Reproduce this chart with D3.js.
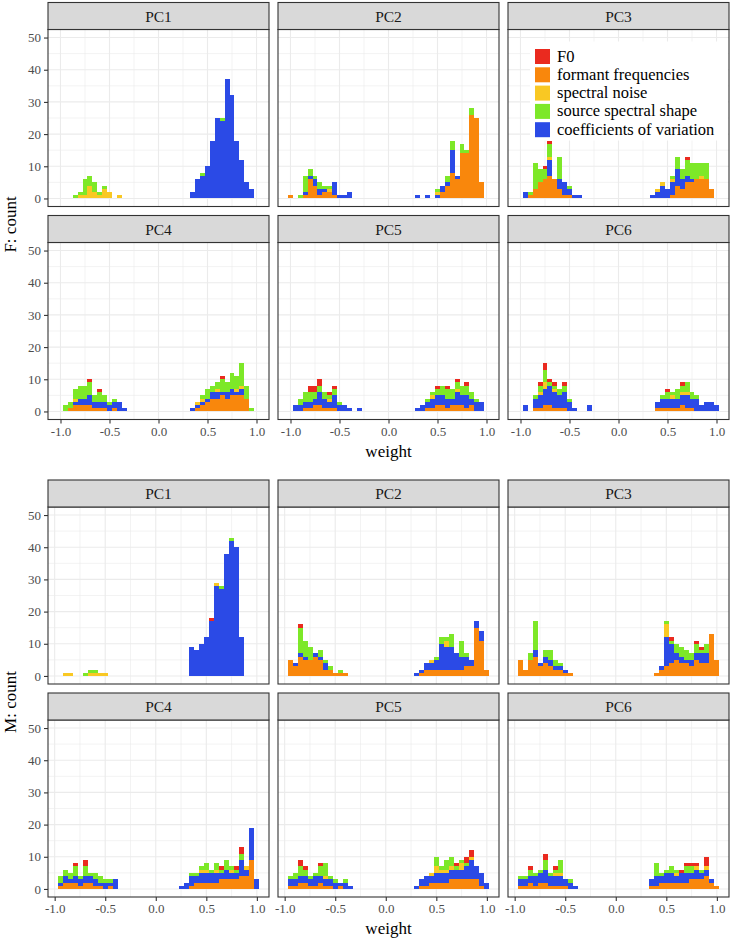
<!DOCTYPE html>
<html>
<head>
<meta charset="utf-8">
<script src="https://cdn.jsdelivr.net/npm/d3@7"></script>
<style>
  html, body { margin: 0; padding: 0; background: #ffffff; }
  svg { display: block; }
</style>
</head>
<body>
<script>
// ---------------- DATA ----------------
const categories = ["F0", "formant frequencies", "spectral noise", "source spectral shape", "coefficients of variation"];
const categoryColors = ["#ea2a1f", "#f9870c", "#f9c823", "#7de828", "#2b4ae6"];
// stacking order, bottom to top
const stackOrder = ["formant frequencies", "coefficients of variation", "spectral noise", "source spectral shape", "F0"];
const panelNames = ["PC1", "PC2", "PC3", "PC4", "PC5", "PC6"];
const yTicks = [0, 10, 20, 30, 40, 50];
const yMinorTicks = [5, 15, 25, 35, 45];
const xTicks = [-1.0, -0.5, 0.0, 0.5, 1.0];
const xTickLabels = ["-1.0", "-0.5", "0.0", "0.5", "1.0"];
const xMinorTicks = [-0.75, -0.25, 0.25, 0.75];
const groupLabels = ["F: count", "M: count"];
const xTitle = "weight";
const binWidthF = 0.05;
const binWidthM = 0.0497;

// rows: [bin centre, F0, formant frequencies, spectral noise, source spectral shape, coefficients of variation]
const F_PC1 = [
  [-0.85,0,0,0,1,0],[-0.80,0,0,1,1,0],[-0.75,0,0,1,5,0],[-0.70,0,0,4,3,0],[-0.65,0,0,2,3,0],
  [-0.60,0,0,1,1,0],[-0.55,0,0,3,1,0],[-0.50,0,0,2,0,0],[-0.40,0,0,1,0,0],
  [0.35,0,0,0,0,2],[0.40,0,0,0,0,6],[0.45,0,0,0,1,7],[0.50,0,0,0,0,10],[0.55,0,0,0,0,18],
  [0.60,0,0,0,0,25],[0.65,0,0,0,1,24],[0.70,0,0,0,0,37],[0.75,0,0,0,0,32],[0.80,0,0,0,0,18],
  [0.85,0,0,0,0,12],[0.90,0,0,0,0,5],[0.95,0,0,0,0,3]
];
const F_PC2 = [
  [-1.00,0,1,0,0,0],[-0.90,0,0,0,1,0],[-0.85,0,1,0,5,1],[-0.80,0,6,0,2,1],[-0.75,0,4,0,1,2],
  [-0.70,0,1,0,2,2],[-0.65,0,2,0,1,1],[-0.60,0,2,1,1,0],[-0.55,0,1,0,0,4],[-0.50,0,0,0,0,1],
  [-0.45,0,0,0,0,1],[-0.40,0,0,0,0,2],
  [0.30,0,0,0,0,1],[0.40,0,0,0,0,1],[0.50,0,0,1,1,1],[0.55,0,2,0,0,2],[0.60,0,4,0,2,1],
  [0.65,0,8,0,3,7],[0.70,0,6,0,0,1],[0.75,0,14,0,3,0],[0.80,0,14,0,1,0],[0.85,0,26,0,2,0],
  [0.90,0,25,0,0,0],[0.95,0,5,0,0,0]
];
const F_PC3 = [
  [-0.95,0,0,0,0,2],[-0.90,0,1,0,1,0],[-0.85,0,3,0,8,0],[-0.80,0,5,0,4,0],[-0.75,1,6,0,3,0],
  [-0.70,1,7,1,4,5],[-0.65,0,6,0,0,0],[-0.60,0,3,0,7,3],[-0.55,0,1,0,0,4],[-0.50,0,1,0,1,2],
  [-0.45,0,0,0,0,1],[-0.40,0,0,0,0,1],
  [0.35,0,0,0,0,1],[0.40,0,0,1,0,2],[0.45,0,0,1,0,4],[0.50,0,0,0,0,3],[0.55,0,1,1,1,4],
  [0.60,0,4,0,4,5],[0.65,0,3,0,3,3],[0.70,1,5,0,5,2],[0.75,0,5,0,5,1],[0.80,0,6,0,5,0],
  [0.85,0,6,1,4,0],[0.90,0,6,0,5,0],[0.95,0,3,0,0,0]
];
const F_PC4 = [
  [-0.95,0,0,0,2,0],[-0.90,0,1,0,2,0],[-0.85,0,2,1,3,1],[-0.80,0,2,0,4,2],[-0.75,0,2,0,4,2],
  [-0.70,1,2,0,4,3],[-0.65,0,1,0,2,2],[-0.60,1,1,0,3,2],[-0.55,0,1,0,2,2],[-0.50,0,0,0,1,2],
  [-0.45,0,1,0,1,2],[-0.40,0,0,0,0,3],[-0.35,0,0,0,0,1],
  [0.35,0,0,0,0,1],[0.40,0,1,1,0,1],[0.45,0,2,1,1,1],[0.50,0,3,0,3,1],[0.55,0,4,0,2,2],
  [0.60,0,4,1,2,2],[0.65,1,5,0,4,1],[0.70,0,4,0,3,2],[0.75,0,5,0,5,2],[0.80,0,5,1,4,1],
  [0.85,0,5,1,7,2],[0.90,0,4,0,4,0],[0.95,0,0,0,1,0]
];
const F_PC5 = [
  [-0.95,0,0,0,0,2],[-0.90,0,0,0,2,2],[-0.85,0,1,0,3,2],[-0.80,2,1,0,3,2],[-0.75,2,2,0,2,2],
  [-0.70,2,2,0,2,4],[-0.65,0,1,0,2,3],[-0.60,1,1,1,1,2],[-0.55,1,1,0,2,4],[-0.50,0,0,0,1,2],
  [-0.45,0,0,0,0,2],[-0.40,0,0,0,0,1],[-0.30,0,0,0,0,1],
  [0.30,0,0,0,0,1],[0.35,0,0,0,0,2],[0.40,0,1,0,1,2],[0.45,0,1,1,1,3],[0.50,1,2,0,2,3],
  [0.55,0,2,0,3,3],[0.60,1,1,0,3,3],[0.65,0,2,0,3,2],[0.70,1,2,1,2,4],[0.75,0,2,0,3,3],
  [0.80,1,1,0,3,4],[0.85,0,2,0,2,2],[0.90,0,0,0,1,3],[0.95,0,0,0,0,3]
];
const F_PC6 = [
  [-0.95,0,0,0,0,2],[-0.85,0,1,0,1,3],[-0.80,1,1,1,2,4],[-0.75,2,2,2,4,5],[-0.70,1,2,0,1,6],
  [-0.65,1,1,1,1,5],[-0.60,0,1,0,2,4],[-0.55,1,1,0,2,5],[-0.50,0,0,0,1,3],[-0.45,0,0,0,0,1],
  [-0.30,0,0,0,0,2],
  [0.40,0,1,0,0,2],[0.45,0,1,0,1,3],[0.50,1,1,0,2,3],[0.55,0,1,1,1,3],[0.60,0,1,0,3,3],
  [0.65,1,2,1,2,3],[0.70,0,1,1,3,4],[0.75,0,1,0,2,3],[0.80,0,0,0,1,4],[0.85,0,0,0,0,2],
  [0.90,0,0,0,0,3],[0.95,0,0,0,0,3],[1.00,0,0,0,0,2]
];

const M_PC1 = [
  [-0.892,0,0,1,0,0],[-0.843,0,0,1,0,0],[-0.694,0,0,0,1,0],[-0.644,0,0,1,1,0],[-0.594,0,0,1,1,0],
  [-0.544,0,0,1,0,0],[-0.495,0,0,1,0,0],
  [0.350,0,0,0,0,9],[0.400,0,0,0,0,8],[0.450,0,0,0,0,10],[0.499,0,0,0,0,12],[0.549,1,0,0,0,17],
  [0.599,0,0,1,0,28],[0.648,0,0,0,1,27],[0.698,0,0,0,0,38],[0.748,0,0,0,1,42],[0.798,0,0,0,0,40],
  [0.847,0,0,0,0,12]
];
const M_PC2 = [
  [-0.942,0,5,0,0,0],[-0.892,0,3,0,0,1],[-0.843,1,6,0,8,1],[-0.793,0,5,0,5,1],[-0.743,0,5,0,4,0],
  [-0.694,0,6,0,0,1],[-0.644,0,5,0,2,1],[-0.594,0,2,0,1,2],[-0.544,0,2,0,1,0],[-0.495,0,1,0,0,0],
  [-0.445,0,1,0,1,0],[-0.395,0,1,0,0,0],
  [0.301,0,0,0,0,1],[0.350,0,1,0,0,1],[0.400,0,2,0,0,2],[0.450,0,2,1,0,2],[0.499,0,2,0,1,3],
  [0.549,0,2,0,2,8],[0.599,0,2,2,1,7],[0.648,0,2,0,4,7],[0.698,0,2,0,0,5],[0.748,0,2,0,5,4],
  [0.798,0,3,0,1,3],[0.847,0,3,0,0,2],[0.897,0,15,0,0,2],[0.947,0,11,0,0,3],[0.996,0,2,0,0,0]
];
const M_PC3 = [
  [-0.942,0,5,0,0,0],[-0.892,0,2,0,0,0],[-0.843,0,5,0,2,0],[-0.793,0,6,0,9,2],[-0.743,0,3,0,0,1],
  [-0.694,0,4,0,2,2],[-0.644,0,3,0,3,2],[-0.594,0,2,0,2,1],[-0.544,0,2,0,1,1],[-0.495,0,1,0,0,1],
  [-0.445,0,1,0,0,0],
  [0.400,0,1,0,0,0],[0.450,0,2,0,0,1],[0.499,0,3,4,1,9],[0.549,1,4,0,1,6],[0.599,0,5,0,3,2],
  [0.648,0,4,0,3,2],[0.698,0,4,0,3,1],[0.748,0,3,0,2,2],[0.798,1,5,0,3,2],[0.847,1,4,0,1,3],
  [0.897,0,4,0,3,3],[0.947,0,13,0,0,0],[0.996,0,5,0,0,0]
];
const M_PC4 = [
  [-0.942,0,1,0,2,1],[-0.892,0,2,0,2,2],[-0.843,0,2,0,2,1],[-0.793,1,2,0,3,2],[-0.743,0,1,0,1,2],
  [-0.694,2,2,0,3,2],[-0.644,0,2,0,1,2],[-0.594,0,1,0,2,2],[-0.544,0,1,0,2,1],[-0.495,0,0,0,1,2],
  [-0.445,0,1,0,1,1],[-0.395,0,0,0,0,3],
  [0.251,0,0,0,0,1],[0.301,0,0,0,0,2],[0.350,0,1,0,1,3],[0.400,0,2,0,1,2],[0.450,0,2,1,1,3],
  [0.499,0,2,1,2,3],[0.549,0,2,0,1,3],[0.599,0,2,1,2,3],[0.648,1,3,0,1,2],[0.698,0,3,0,3,3],
  [0.748,0,3,1,1,2],[0.798,1,3,0,1,2],[0.847,2,4,0,2,5],[0.897,0,4,1,0,2],[0.947,0,9,0,0,10],
  [0.996,0,0,0,0,3]
];
const M_PC5 = [
  [-0.942,0,1,0,1,2],[-0.892,0,1,0,2,2],[-0.843,2,2,0,3,2],[-0.793,1,2,0,2,2],[-0.743,0,1,0,1,2],
  [-0.694,0,1,0,1,3],[-0.644,1,2,0,3,2],[-0.594,0,1,1,4,2],[-0.544,0,1,0,1,2],[-0.495,0,0,0,1,2],
  [-0.445,0,1,0,0,1],[-0.395,0,0,0,1,2],[-0.346,0,0,0,0,1],
  [0.301,0,0,0,0,1],[0.350,0,1,0,0,2],[0.400,0,1,0,0,3],[0.450,0,2,1,0,2],[0.499,0,2,2,3,3],
  [0.549,0,2,1,1,3],[0.599,0,2,1,3,3],[0.648,0,3,1,3,3],[0.698,1,3,0,1,3],[0.748,0,3,2,1,3],
  [0.798,2,3,0,1,4],[0.847,2,3,1,0,6],[0.897,0,3,0,0,4],[0.947,0,1,0,0,4],[0.996,0,0,0,0,2]
];
const M_PC6 = [
  [-0.942,0,1,0,1,2],[-0.892,0,1,0,1,2],[-0.843,1,2,0,2,2],[-0.793,0,1,0,1,3],[-0.743,0,2,0,1,3],
  [-0.694,2,2,0,3,4],[-0.644,0,1,0,1,3],[-0.594,1,1,1,1,3],[-0.544,0,1,1,4,3],[-0.495,0,1,0,0,2],
  [-0.445,0,0,0,1,2],[-0.395,0,0,0,0,1],
  [0.350,0,1,0,0,2],[0.400,0,1,0,4,3],[0.450,0,2,0,1,2],[0.499,0,2,0,1,3],[0.549,0,2,0,2,3],
  [0.599,0,2,1,1,2],[0.648,1,2,0,0,3],[0.698,1,2,0,2,3],[0.748,1,3,0,2,2],[0.798,1,3,1,0,3],
  [0.847,0,3,0,1,2],[0.897,3,4,1,0,2],[0.947,0,2,0,0,1],[0.996,0,1,0,0,0]
];

const groupF = [F_PC1, F_PC2, F_PC3, F_PC4, F_PC5, F_PC6];
const groupM = [M_PC1, M_PC2, M_PC3, M_PC4, M_PC5, M_PC6];

// ---------------- LAYOUT ----------------
const W = 730, H = 943;
const serif = "'Liberation Serif', 'Times New Roman', 'DejaVu Serif', serif";
const colX = [48, 278, 508];
const panelW = 221;
const stripH = 27, plotH = 177, rowGap = 9;

const svg = d3.select("body").append("svg")
  .attr("width", W).attr("height", H)
  .attr("viewBox", `0 0 ${W} ${H}`)
  .style("font-family", serif);
svg.append("rect").attr("width", W).attr("height", H).attr("fill", "#ffffff");

const stack = d3.stack().keys(stackOrder);
const colorOf = d3.scaleOrdinal().domain(categories).range(categoryColors);

function toObjects(rows) {
  return rows.map(r => {
    const o = { c: r[0] };
    categories.forEach((k, i) => { o[k] = r[i + 1]; });
    return o;
  });
}

function drawFigure(figTop, panels, xDomain, binW, yLabel, withLegend) {
  const g = svg.append("g");
  let lastBottom = 0;
  panels.forEach((rows, i) => {
    const row = Math.floor(i / 3), col = i % 3;
    const px = colX[col];
    const stripTop = figTop + row * (stripH + plotH + rowGap);
    const py = stripTop + stripH;
    const x = d3.scaleLinear().domain(xDomain).range([px, px + panelW]);
    const y = d3.scaleLinear().domain([-2.5, 52.5]).range([py + plotH, py]);
    lastBottom = py + plotH;
    const pg = g.append("g");
    pg.append("rect").attr("x", px).attr("y", py).attr("width", panelW).attr("height", plotH).attr("fill", "#ffffff");
    // minor grid
    pg.selectAll(".gxm").data(xMinorTicks).join("line")
      .attr("x1", d => x(d)).attr("x2", d => x(d)).attr("y1", py).attr("y2", py + plotH)
      .attr("stroke", "#ebebeb").attr("stroke-width", 0.6);
    pg.selectAll(".gym").data(yMinorTicks).join("line")
      .attr("y1", d => y(d)).attr("y2", d => y(d)).attr("x1", px).attr("x2", px + panelW)
      .attr("stroke", "#ebebeb").attr("stroke-width", 0.6);
    // major grid
    pg.selectAll(".gx").data(xTicks).join("line")
      .attr("x1", d => x(d)).attr("x2", d => x(d)).attr("y1", py).attr("y2", py + plotH)
      .attr("stroke", "#ebebeb").attr("stroke-width", 1.1);
    pg.selectAll(".gy").data(yTicks).join("line")
      .attr("y1", d => y(d)).attr("y2", d => y(d)).attr("x1", px).attr("x2", px + panelW)
      .attr("stroke", "#ebebeb").attr("stroke-width", 1.1);
    // bars
    const series = stack(toObjects(rows));
    series.forEach(s => {
      pg.append("g").attr("fill", colorOf(s.key)).attr("shape-rendering", "crispEdges")
        .selectAll("rect").data(s.filter(d => d[1] > d[0])).join("rect")
        .attr("x", d => x(d.data.c - binW / 2))
        .attr("width", d => x(d.data.c + binW / 2) - x(d.data.c - binW / 2))
        .attr("y", d => y(d[1]))
        .attr("height", d => y(d[0]) - y(d[1]));
    });
    // border
    pg.append("rect").attr("x", px).attr("y", py).attr("width", panelW).attr("height", plotH)
      .attr("fill", "none").attr("stroke", "#333333").attr("stroke-width", 1.1);
    // strip
    pg.append("rect").attr("x", px).attr("y", stripTop).attr("width", panelW).attr("height", stripH)
      .attr("fill", "#d9d9d9").attr("stroke", "#333333").attr("stroke-width", 1.1);
    pg.append("text").attr("x", px + panelW / 2).attr("y", stripTop + stripH / 2 + 5.5)
      .attr("text-anchor", "middle").attr("font-size", 15.5).attr("fill", "#1a1a1a").text(panelNames[i]);
    // axes
    if (col === 0) {
      const ax = pg.append("g").attr("transform", `translate(${px},0)`)
        .call(d3.axisLeft(y).tickValues(yTicks).tickSize(4).tickPadding(3).tickFormat(d3.format("d")));
      ax.select(".domain").remove();
      ax.selectAll("line").attr("stroke", "#333333").attr("stroke-width", 1.1);
      ax.selectAll("text").attr("font-family", serif).attr("font-size", 13).attr("fill", "#4d4d4d");
    }
    if (row === 1) {
      const ax = pg.append("g").attr("transform", `translate(0,${py + plotH})`)
        .call(d3.axisBottom(x).tickValues(xTicks).tickSize(4).tickPadding(3)
          .tickFormat((d, j) => xTickLabels[j]));
      ax.select(".domain").remove();
      ax.selectAll("line").attr("stroke", "#333333").attr("stroke-width", 1.1);
      ax.selectAll("text").attr("font-family", serif).attr("font-size", 13).attr("fill", "#4d4d4d");
    }
    if (withLegend && i === 2) {
      const lg = pg.append("g");
      const lx = px + 22, ly = py + 12;
      lg.append("rect").attr("x", lx).attr("y", ly).attr("width", panelW - 23).attr("height", 99).attr("fill", "#ffffff");
      categories.forEach((c, k) => {
        const cy = ly + 15 + k * 18.3;
        lg.append("rect").attr("x", lx + 5).attr("y", cy - 7.5).attr("width", 15).attr("height", 15)
          .attr("fill", colorOf(c));
        lg.append("text").attr("x", lx + 27).attr("y", cy + 5).attr("font-size", 16.5).attr("fill", "#000000").text(c);
      });
    }
  });
  // axis titles
  const panelsTop = figTop + stripH;
  svg.append("text")
    .attr("transform", `translate(16,${(panelsTop + lastBottom) / 2}) rotate(-90)`)
    .attr("text-anchor", "middle").attr("font-size", 17).attr("fill", "#000000").text(yLabel);
  svg.append("text").attr("x", (colX[0] + colX[2] + panelW) / 2).attr("y", lastBottom + 37)
    .attr("text-anchor", "middle").attr("font-size", 17).attr("fill", "#000000").text(xTitle);
}

drawFigure(2.5, groupF, [-1.1275, 1.1275], binWidthF, groupLabels[0], true);
drawFigure(480, groupM, [-1.066, 1.120], binWidthM, groupLabels[1], false);
</script>
</body>
</html>
